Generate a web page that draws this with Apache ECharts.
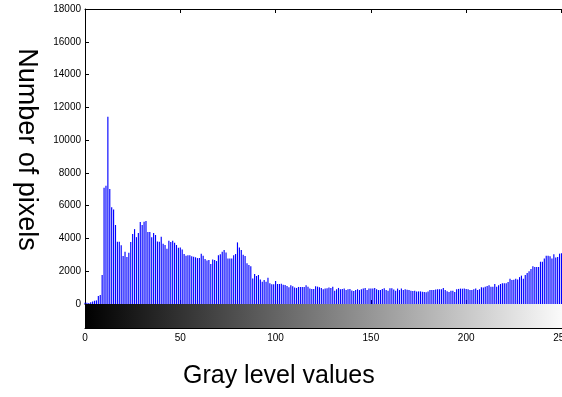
<!DOCTYPE html>
<html>
<head>
<meta charset="utf-8">
<script src="https://cdn.jsdelivr.net/npm/echarts@6/dist/echarts.min.js"></script>
<style>
  html, body { margin: 0; padding: 0; background: #fff; }
  #chart { width: 562px; height: 397px; }
</style>
</head>
<body>
<div id="chart"></div>
<script>
// pixel count per gray level 0..255
const pixelCounts = [
  80, 80, 60, 100, 150, 200, 220, 490, 550, 1770,
  7090, 7210, 11420, 7010, 5910, 5760, 4820, 3800, 3800, 3580,
  2930, 3190, 2870, 3130, 3780, 4270, 4570, 4080, 4330, 5000,
  4820, 5020, 5060, 4390, 4390, 4080, 4330, 4210, 3820, 3800,
  4100, 3680, 3600, 3370, 3860, 3780, 3860, 3740, 3600, 3430,
  3450, 3330, 3050, 2950, 2970, 2970, 2910, 2890, 2850, 2800,
  2800, 3070, 2950, 2740, 2660, 2680, 2440, 2720, 2680, 2620,
  2970, 3030, 3190, 3290, 3150, 2780, 2780, 2780, 2970, 3050,
  3760, 3450, 3300, 3000, 2930, 2480, 2380, 2300, 1560, 1830,
  1710, 1770, 1500, 1360, 1460, 1360, 1600, 1260, 1200, 1200,
  1400, 1220, 1220, 1240, 1180, 1160, 1100, 1020, 1140, 1080,
  1000, 980, 1040, 1040, 1040, 1040, 1140, 1060, 940, 920,
  920, 1080, 1060, 1020, 980, 900, 940, 960, 1000, 980,
  1060, 810, 900, 980, 900, 920, 940, 850, 900, 920,
  830, 790, 860, 900, 850, 900, 940, 980, 850, 940,
  940, 940, 980, 900, 850, 850, 920, 960, 850, 810,
  960, 960, 880, 810, 940, 850, 940, 850, 900, 870,
  850, 810, 790, 810, 770, 770, 770, 750, 730, 710,
  770, 850, 850, 850, 880, 900, 900, 900, 980, 850,
  780, 730, 810, 810, 730, 900, 920, 940, 930, 940,
  920, 900, 850, 850, 900, 940, 850, 900, 1020, 1000,
  1060, 1100, 1140, 1060, 1060, 1220, 1060, 1140, 1220, 1260,
  1260, 1260, 1340, 1540, 1460, 1480, 1540, 1500, 1640, 1730,
  1540, 1770, 1890, 2000, 2130, 2300, 2260, 2260, 2260, 2580,
  2580, 2780, 2950, 2950, 2910, 2780, 3030, 2830, 2870, 3070,
  3090, 3100, 3000, 3150, 3100, 3000
];
const grayRange = [0, 255];
const countRange = [0, 18000];

const font = '"Liberation Sans", Arial, Helvetica, sans-serif';
const chart = echarts.init(document.getElementById('chart'));

const plotLeft = 85;
const plotWidth = 486; // runs past the right edge of the picture

const tickStyle = { show: true, inside: true, length: 4, lineStyle: { color: '#000', width: 1 } };
const lineStyle = { show: true, lineStyle: { color: '#000', width: 1 } };

chart.setOption({
  animation: false,
  title: {
    text: 'Gray level values',
    left: 183,
    top: 364,
    padding: 0,
    textStyle: { fontFamily: font, fontSize: 25, fontWeight: 'normal', color: '#000' }
  },
  grid: [
    { left: plotLeft, top: 9, width: plotWidth, height: 295, outerBoundsMode: 'none', containLabel: false },
    { left: plotLeft, top: 304, width: plotWidth, height: 24, outerBoundsMode: 'none', containLabel: false }
  ],
  xAxis: [
    {
      gridIndex: 0, type: 'value', min: grayRange[0], max: grayRange[1], interval: 50,
      axisLine: lineStyle, axisTick: tickStyle, axisLabel: { show: false }, splitLine: { show: false }
    },
    {
      gridIndex: 0, type: 'value', position: 'top', min: grayRange[0], max: grayRange[1], interval: 50,
      axisLine: lineStyle, axisTick: tickStyle, axisLabel: { show: false }, splitLine: { show: false }
    },
    {
      gridIndex: 1, type: 'value', min: grayRange[0], max: grayRange[1], interval: 50,
      axisLine: lineStyle, axisTick: tickStyle, splitLine: { show: false },
      axisLabel: { fontFamily: font, fontSize: 10, color: '#000', margin: 5, showMaxLabel: false }
    },
    {
      gridIndex: 1, type: 'value', position: 'top', min: grayRange[0], max: grayRange[1], interval: 50,
      axisLine: { show: false }, axisTick: tickStyle, axisLabel: { show: false }, splitLine: { show: false }
    }
  ],
  yAxis: [
    {
      gridIndex: 0, type: 'value', min: countRange[0], max: countRange[1], interval: 2000,
      axisLine: lineStyle, axisTick: tickStyle, splitLine: { show: false },
      axisLabel: { fontFamily: font, fontSize: 10, color: '#000', margin: 4, formatter: v => String(v) },
      name: 'Number of pixels', nameLocation: 'middle', nameRotate: -90, nameGap: 45,
      nameTextStyle: { fontFamily: font, fontSize: 27, color: '#000', padding: [0, 14, 0, 0] }
    },
    {
      gridIndex: 1, type: 'value', min: 0, max: 1,
      axisLine: lineStyle, axisTick: { show: false }, axisLabel: { show: false }, splitLine: { show: false }
    }
  ],
  series: [
    {
      type: 'bar',
      xAxisIndex: 0,
      yAxisIndex: 0,
      barWidth: '60%',
      itemStyle: { color: '#0000ff' },
      data: pixelCounts.map((v, i) => [i, v])
    },
    {
      type: 'line',
      xAxisIndex: 2,
      yAxisIndex: 1,
      symbol: 'none',
      lineStyle: { width: 0 },
      areaStyle: {
        opacity: 1,
        color: new echarts.graphic.LinearGradient(0, 0, 1, 0, [
          { offset: 0, color: '#000' },
          { offset: 1, color: '#fff' }
        ])
      },
      data: [[grayRange[0], 1], [grayRange[1], 1]]
    }
  ]
});
</script>
</body>
</html>
